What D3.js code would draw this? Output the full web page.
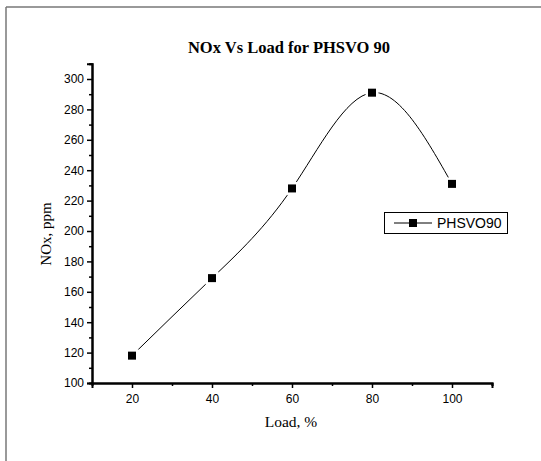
<!DOCTYPE html>
<html><head><meta charset="utf-8">
<script src="https://cdn.jsdelivr.net/npm/d3@7"></script>
<style>body{margin:0;background:#fff}svg{display:block}</style>
</head><body>
<script>
const loads = [20, 40, 60, 80, 100];
const noxValues = [118, 169, 228, 291, 231];
const xTickValues = [20, 40, 60, 80, 100];
const yTickValues = [100, 120, 140, 160, 180, 200, 220, 240, 260, 280, 300];
const seriesName = "PHSVO90";
const titleText = "NOx Vs Load for PHSVO 90";
const xLabel = "Load, %";
const yLabel = "NOx, ppm";

const W = 541, H = 461;
const svg = d3.select("body").append("svg").attr("width", W).attr("height", H);

// outer frame (top and left edges visible)
svg.append("line").attr("x1", 6).attr("y1", 7).attr("x2", W).attr("y2", 7).attr("stroke", "#777").attr("stroke-width", 1.5);
svg.append("line").attr("x1", 6).attr("y1", 7).attr("x2", 6).attr("y2", H).attr("stroke", "#777").attr("stroke-width", 1.5);

const x = d3.scaleLinear().domain([10, 110]).range([92, 492]);
const y = d3.scaleLinear().domain([100, 310]).range([383, 63.8]);

// X axis
const gx = svg.append("g").attr("transform", "translate(0,383)");
gx.call(d3.axisBottom(x).tickValues([30, 50, 70, 90, 110]).tickSize(3).tickFormat(""));
gx.call(g => g.append("g").call(d3.axisBottom(x).tickValues(xTickValues).tickSize(5).tickPadding(6)));
gx.selectAll(".domain").attr("stroke-width", 2);
gx.selectAll("line").attr("stroke-width", 1.5);
gx.selectAll("text").attr("font-family", "Liberation Sans, Arial, sans-serif").attr("font-size", 12).attr("fill", "#000");

// Y axis
const gy = svg.append("g").attr("transform", "translate(92,0)");
gy.call(d3.axisLeft(y).tickValues(d3.range(110, 311, 20)).tickSize(3).tickFormat(""));
gy.call(g => g.append("g").call(d3.axisLeft(y).tickValues(yTickValues).tickSize(5).tickPadding(3)));
gy.selectAll(".domain").attr("stroke-width", 2);
gy.selectAll("line").attr("stroke-width", 1.5);
gy.selectAll("text").attr("font-family", "Liberation Sans, Arial, sans-serif").attr("font-size", 12).attr("fill", "#000");

const data = loads.map((l, i) => ({x: l, y: noxValues[i]}));

// spline line
const line = d3.line().x(d => x(d.x)).y(d => y(d.y)).curve(d3.curveNatural);
svg.append("path").datum(data).attr("d", line).attr("fill", "none").attr("stroke", "#000").attr("stroke-width", 1);

// gaps around markers
svg.selectAll("rect.halo").data(data).join("rect").attr("class", "halo")
  .attr("x", d => x(d.x) - 6.5).attr("y", d => y(d.y) - 6.5).attr("width", 13).attr("height", 13).attr("fill", "#fff");
svg.selectAll("rect.mk").data(data).join("rect").attr("class", "mk")
  .attr("x", d => x(d.x) - 4).attr("y", d => y(d.y) - 4).attr("width", 8).attr("height", 8).attr("fill", "#000");

// Title
svg.append("text").attr("x", 289).attr("y", 53).attr("text-anchor", "middle")
  .attr("font-family", "Liberation Serif, Times New Roman, serif").attr("font-weight", "bold").attr("font-size", 16.5)
  .text(titleText);
// Axis labels
svg.append("text").attr("x", 291).attr("y", 427).attr("text-anchor", "middle")
  .attr("font-family", "Liberation Serif, Times New Roman, serif").attr("font-size", 15.5).text(xLabel);
svg.append("text").attr("transform", "translate(51,234) rotate(-90)").attr("text-anchor", "middle")
  .attr("font-family", "Liberation Serif, Times New Roman, serif").attr("font-size", 15).text(yLabel);

// Legend
const lg = svg.append("g");
lg.append("rect").attr("x", 384.5).attr("y", 212.5).attr("width", 123).attr("height", 21).attr("fill", "#fff").attr("stroke", "#000").attr("stroke-width", 1);
lg.append("line").attr("x1", 394).attr("x2", 432).attr("y1", 223).attr("y2", 223).attr("stroke", "#000");
lg.append("rect").attr("x", 409).attr("y", 219).attr("width", 8).attr("height", 8).attr("fill", "#000");
lg.append("text").attr("x", 437).attr("y", 228).attr("font-family", "Liberation Sans, Arial, sans-serif").attr("font-size", 14).text(seriesName);
</script>
</body></html>
